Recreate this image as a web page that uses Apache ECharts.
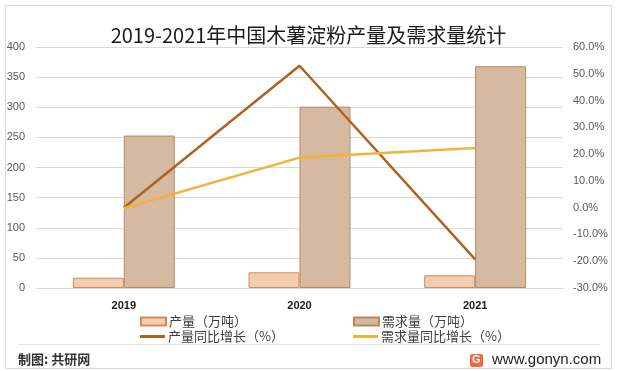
<!DOCTYPE html>
<html>
<head>
<meta charset="utf-8">
<script src="https://cdn.jsdelivr.net/npm/echarts@6/dist/echarts.min.js"></script>
<style>html,body{margin:0;padding:0;background:#fff}#c{width:617px;height:371px}</style>
</head>
<body>
<div id="c"></div>
<script>
const categories = ['2019', '2020', '2021'];
const production = [17, 26, 21];
const demand = [253, 301, 368];
const productionGrowth = [0.0, 53.0, -19.3];
const demandGrowth = [-0.2, 18.7, 22.3];
const leftTicks = {min: 0, max: 400, interval: 50};
const rightTicks = {min: -30, max: 60, interval: 10};

const FONT = '"Noto Sans CJK SC", "Noto Sans", sans-serif';
const chart = echarts.init(document.getElementById('c'), null, {renderer: 'canvas'});
const legendText = {fontSize: 13, color: '#404040', fontFamily: FONT, padding: [0, 0, 0, -2]};
chart.setOption({
  animation: false,
  backgroundColor: '#fff',
  textStyle: {fontFamily: FONT},
  title: {
    text: '2019-2021年中国木薯淀粉产量及需求量统计',
    left: 'center', top: 20,
    textStyle: {fontSize: 20, fontWeight: 'normal', color: '#1a1a1a', fontFamily: FONT}
  },
  legend: [
    {data: [{name: '产量（万吨）', icon: 'rect'}], left: 135, top: 310, itemWidth: 25, itemHeight: 8, textStyle: legendText},
    {data: [{name: '需求量（万吨）', icon: 'rect'}], left: 348, top: 310, itemWidth: 25, itemHeight: 8, textStyle: legendText},
    {data: [{name: '产量同比增长（%）', icon: 'rect'}], left: 135, top: 325, itemWidth: 25, itemHeight: 3, textStyle: legendText},
    {data: [{name: '需求量同比增长（%）', icon: 'rect'}], left: 348, top: 325, itemWidth: 25, itemHeight: 3, textStyle: legendText}
  ],
  grid: {left: 36, right: 54, top: 47, bottom: 83},
  xAxis: {
    type: 'category', data: categories,
    axisLine: {lineStyle: {color: '#d9d9d9'}},
    axisTick: {show: false},
    axisLabel: {fontSize: 11, fontWeight: 'bold', color: '#1a1a1a', margin: 12, fontFamily: 'Liberation Sans, sans-serif'}
  },
  yAxis: [
    {
      type: 'value', min: leftTicks.min, max: leftTicks.max, interval: leftTicks.interval,
      axisLine: {show: false}, axisTick: {show: false},
      axisLabel: {fontSize: 11, color: '#595959', margin: 11, fontFamily: 'Liberation Sans, sans-serif'},
      splitLine: {lineStyle: {color: '#d9d9d9'}}
    },
    {
      type: 'value', min: rightTicks.min, max: rightTicks.max, interval: rightTicks.interval,
      axisLine: {show: false}, axisTick: {show: false},
      axisLabel: {fontSize: 11, color: '#595959', margin: 10, fontFamily: 'Liberation Sans, sans-serif',
        formatter: v => v.toFixed(1) + '%'},
      splitLine: {show: false}
    }
  ],
  series: [
    {
      name: '产量（万吨）', type: 'bar', data: production, yAxisIndex: 0,
      barGap: '0%', barCategoryGap: '42%',
      itemStyle: {color: '#F3CDAF', borderColor: '#D08A56', borderWidth: 1}
    },
    {
      name: '需求量（万吨）', type: 'bar', data: demand, yAxisIndex: 0,
      barGap: '0%', barCategoryGap: '42%',
      itemStyle: {color: '#D5B9A1', borderColor: '#B98860', borderWidth: 1}
    },
    {
      name: '产量同比增长（%）', type: 'line', data: productionGrowth, yAxisIndex: 1,
      symbol: 'none', lineStyle: {color: '#B0621F', width: 2.5}, itemStyle: {color: '#B0621F'}
    },
    {
      name: '需求量同比增长（%）', type: 'line', data: demandGrowth, yAxisIndex: 1,
      symbol: 'none', lineStyle: {color: '#F2B23B', width: 2.5}, itemStyle: {color: '#F2B23B'}
    }
  ],
  graphic: [
    {type: 'rect', shape: {x: 5.5, y: 5.5, width: 606, height: 363}, style: {fill: 'none', stroke: '#d9d9d9', lineWidth: 1}, silent: true},
    {type: 'line', shape: {x1: 18, y1: 344.5, x2: 600, y2: 344.5}, style: {stroke: '#e3e3e3', lineWidth: 1}},
    {type: 'text', left: 18, top: 353, style: {text: '制图: 共研网', fontSize: 13, fontWeight: 'bold', fill: '#333', fontFamily: FONT}},
    {type: 'rect', shape: {x: 470, y: 354, width: 13, height: 13, r: 2}, style: {fill: '#F26A3B'}},
    {type: 'text', left: 472, top: 354, style: {text: 'G', fontSize: 11, fontWeight: 'bold', fill: '#fff', fontFamily: 'Liberation Sans'}},
    {type: 'text', left: 492, top: 352, style: {text: 'www.gonyn.com', fontSize: 15, fill: '#222', fontFamily: 'Liberation Sans, sans-serif'}}
  ]
});
</script>
</body>
</html>
